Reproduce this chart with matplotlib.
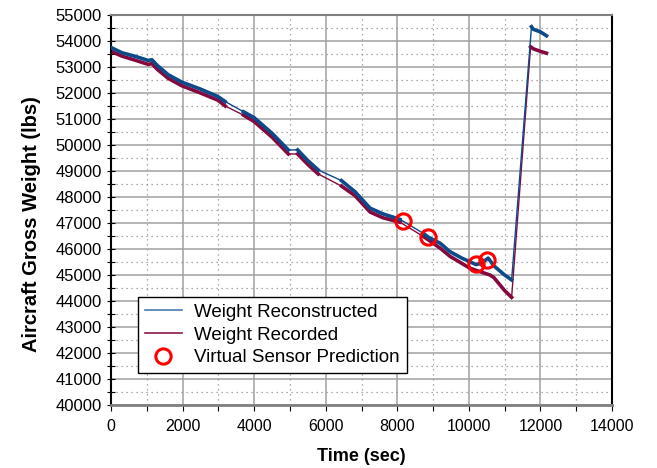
import numpy as np
import matplotlib.pyplot as plt
from matplotlib.ticker import MultipleLocator

plt.rcParams['font.family'] = ['Liberation Sans', 'DejaVu Sans']

# weight reconstructed (blue)
recon_t = [0, 300, 700, 1040, 1140, 1300, 1600, 1975, 2500, 2990, 3190,
           3700, 4000, 4500, 4955,
           5215, 5500, 5790,
           6440, 6820, 7240, 7600, 8075,
           8730, 8870, 9200, 9470, 9800, 10030, 10200, 10350, 10540, 10700, 11000, 11195,
           11750, 11800, 12000, 12170]
recon_w = [53750, 53550, 53400, 53250, 53280, 53050, 52700, 52420, 52150, 51860, 51670,
           51280, 51050, 50450, 49810,
           49810, 49400, 49040,
           48630, 48200, 47570, 47350, 47140,
           46600, 46450, 46220, 45900, 45650, 45510, 45400, 45450, 45650, 45350, 45000, 44810,
           54550, 54450, 54350, 54200]

# weight recorded (maroon)
record_t = [0, 300, 700, 1040, 1140, 1300, 1600, 1975, 2500, 2990, 3190,
            3700, 4000, 4500, 4955,
            5215, 5500, 5790,
            6440, 6820, 7240, 7600, 8075,
            8730, 8870, 9200, 9470, 10030, 10310, 10590, 10700, 11000, 11195,
            11725, 11800, 12000, 12170]
record_w = [53600, 53420, 53250, 53100, 53130, 52900, 52560, 52280, 52000, 51720, 51500,
            51150, 50900, 50300, 49655,
            49655, 49250, 48885,
            48420, 48050, 47420, 47200, 47030,
            46480, 46350, 46030, 45720, 45260, 45130, 45000, 44900, 44400, 44140,
            53780, 53700, 53600, 53530]

# stretches with no samples (drawn as plain connecting lines)
gaps = [(3190, 3700), (4955, 5215), (5790, 6440), (8075, 8730), (11195, 11725), (11195, 11750)]

# virtual sensor predictions
pred_t = [8170, 8870, 10200, 10510]
pred_w = [47090, 46470, 45420, 45570]

blue = '#0d4a8a'
maroon = '#85093f'


def split_gaps(t, w):
    t2, w2 = [], []
    for i in range(len(t)):
        if i > 0 and (t[i - 1], t[i]) in gaps:
            t2.append(np.nan)
            w2.append(np.nan)
        t2.append(t[i])
        w2.append(w[i])
    return t2, w2


fig = plt.figure(figsize=(6.57, 4.68), dpi=100)
ax = fig.add_axes([0.169, 0.1346, 0.7625, 0.8334])

ax.plot(recon_t, recon_w, color=blue, lw=1.0, zorder=3)
ax.plot(record_t, record_w, color=maroon, lw=1.0, zorder=2)
t, w = split_gaps(recon_t, recon_w)
ax.plot(t, w, color=blue, lw=2.6, zorder=3)
t, w = split_gaps(record_t, record_w)
ax.plot(t, w, color=maroon, lw=2.6, zorder=2)
ax.plot(pred_t, pred_w, 'o', mfc='none', mec='#ff0000', mew=2.2, ms=11, zorder=4)

# legend proxies
h1, = ax.plot([], [], color='#4a7ab0', lw=1.2, label='Weight Reconstructed')
h2, = ax.plot([], [], color='#8a1a4c', lw=1.2, label='Weight Recorded')
h3, = ax.plot([], [], 'o', mfc='none', mec='#ff0000', mew=2.2, ms=11, label='Virtual Sensor Prediction')

ax.set_xlim(0, 14000)
ax.set_ylim(40000, 55000)
ax.xaxis.set_major_locator(MultipleLocator(2000))
ax.xaxis.set_minor_locator(MultipleLocator(1000))
ax.yaxis.set_major_locator(MultipleLocator(1000))
ax.yaxis.set_minor_locator(MultipleLocator(500))

ax.grid(which='major', color='#a0a0a0', lw=1.1, ls='-', zorder=0)
ax.grid(which='minor', color='#909090', lw=0.9, ls=(0, (1, 3)), zorder=0)
ax.set_axisbelow(True)

ax.tick_params(axis='x', which='both', direction='out', length=4, width=0.8, labelsize=11.5, pad=6)
ax.tick_params(axis='y', which='both', direction='inout', length=6, width=0.8, labelsize=12)

ax.spines['left'].set_color('black')
ax.spines['left'].set_linewidth(1.5)
ax.spines['right'].set_color('black')
ax.spines['right'].set_linewidth(1.5)
ax.spines['top'].set_color('#808080')
ax.spines['top'].set_linewidth(1.5)
ax.spines['bottom'].set_color('#808080')
ax.spines['bottom'].set_linewidth(2)

ax.set_xlabel('Time (sec)', fontsize=13, fontweight='bold')
ax.set_ylabel('Aircraft Gross Weight (lbs)', fontsize=14.5, fontweight='bold')
ax.xaxis.set_label_coords(0.5, -0.11)
ax.yaxis.set_label_coords(-0.14, 0.464)

leg = ax.legend(handles=[h1, h2, h3], loc='lower left', bbox_to_anchor=(0.054, 0.082),
                borderaxespad=0, fancybox=False, framealpha=1, edgecolor='black',
                fontsize=13.5, handlelength=2.0, handletextpad=0.65, labelspacing=0.3,
                borderpad=0.35)
leg.get_frame().set_linewidth(1.0)

fig.savefig('out.png', dpi=100)
